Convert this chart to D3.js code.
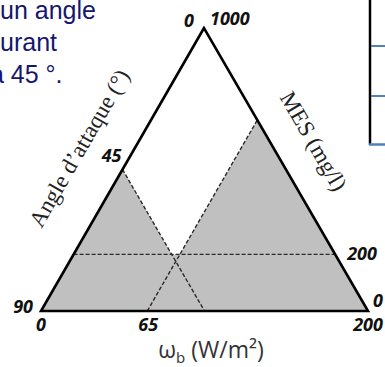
<!DOCTYPE html>
<html><head><meta charset="utf-8">
<script src="https://cdn.jsdelivr.net/npm/d3@7"></script>
<style>html,body{margin:0;padding:0;background:#fff;}svg{display:block;}</style>
</head><body>
<script>
// ---- data ----
const angleDomain = [0, 90];      // left side: 0 at apex, 90 at bottom-left
const omegaDomain = [0, 200];     // bottom side: 0 left, 200 right
const mesDomain = [0, 1000];      // right side: 0 bottom-right, 1000 apex
const angleTicks = [0, 45, 90];
const omegaTicks = [0, 65, 200];
const mesTicks = [0, 200, 1000];
const angleThreshold = 45;
const omegaThreshold = 65;
const mesThreshold = 200;
const noteLines = ["un angle", "urant", "à 45 °."];

const W = 385, H = 367;
const svg = d3.select("body").append("svg").attr("width", W).attr("height", H);

const T = [204, 28], L = [41, 311], R = [368, 311];
const lerp = (p, q, t) => [p[0] + (q[0] - p[0]) * t, p[1] + (q[1] - p[1]) * t];
const aS = d3.scaleLinear().domain(angleDomain).range([0, 1]);
const wS = d3.scaleLinear().domain(omegaDomain).range([0, 1]);
const mS = d3.scaleLinear().domain(mesDomain).range([0, 1]);
const pA = a => lerp(T, L, aS(a));
const pW = w => lerp(L, R, wS(w));
const pM = m => lerp(R, T, mS(m));
function inter(p, d, q, e) {
  const den = d[0] * e[1] - d[1] * e[0];
  const t = ((q[0] - p[0]) * e[1] - (q[1] - p[1]) * e[0]) / den;
  return [p[0] + d[0] * t, p[1] + d[1] * t];
}
const dirRight = [R[0] - T[0], R[1] - T[1]];
const dirLeft = [T[0] - L[0], T[1] - L[1]];
const dirBottom = [R[0] - L[0], 0];

const a0 = pA(angleThreshold);
const w0 = pW(omegaThreshold);
const m0 = pM(mesThreshold);
const aEnd = inter(a0, dirRight, L, dirBottom);
const wEnd = inter(w0, dirLeft, R, [T[0] - R[0], T[1] - R[1]]);
const mStart = inter(m0, dirBottom, L, dirLeft);
const aC = inter(a0, dirRight, m0, dirBottom);
const cW = inter(m0, dirBottom, w0, dirLeft);

const line = d3.line();
svg.append("path").attr("d", line([T, L, R]) + "Z").attr("fill", "#c0c0c0");
svg.append("path").attr("d", line([T, a0, aC, cW, wEnd]) + "Z").attr("fill", "#fff");

const dash = {stroke: "#2a2a2a", "stroke-width": 1.4, "stroke-dasharray": "4,2", fill: "none"};
[[a0, aEnd], [w0, wEnd], [mStart, m0]].forEach(seg => {
  const p = svg.append("path").attr("d", line(seg));
  Object.entries(dash).forEach(([k, v]) => p.attr(k, v));
});
svg.append("path").attr("d", line([T, L, R]) + "Z").attr("fill", "none")
  .attr("stroke", "#000").attr("stroke-width", 2.6).attr("stroke-linejoin", "miter");

// tick labels
const tf = g => g.attr("font-family", "Open Sans, sans-serif").attr("font-weight", "bold")
  .attr("font-style", "italic").attr("font-size", 18).attr("fill", "#111");
angleTicks.forEach(a => {
  const p = pA(a);
  let dx = -9, dy = -1;
  if (a === angleDomain[1]) { dx = -8; dy = 2; }
  if (a === angleThreshold) { dx = -1; dy = -8; }
  if (a === angleDomain[0]) { dx = -10; dy = -1; }
  tf(svg.append("text")).attr("x", p[0] + dx).attr("y", p[1] + dy).attr("text-anchor", "end").text(a);
});
omegaTicks.forEach(w => {
  const p = pW(w);
  let dx = 0;
  if (w === omegaThreshold) dx = 1;
  tf(svg.append("text")).attr("x", p[0] + dx).attr("y", p[1] + 20).attr("text-anchor", "middle").text(w);
});
mesTicks.forEach(m => {
  const p = pM(m);
  let dx = 5, dy = -4;
  if (m === mesThreshold) { dx = 12; dy = 6; }
  if (m === mesDomain[1]) { dx = 6; dy = -3; }
  tf(svg.append("text")).attr("x", p[0] + dx).attr("y", p[1] + dy).attr("text-anchor", "start").text(m);
});

// axis titles
svg.append("text").attr("transform", "translate(86,152) rotate(-60)")
  .attr("text-anchor", "middle").attr("font-family", "Liberation Serif, serif").attr("font-size", 23)
  .attr("fill", "#222").text("Angle d’attaque (°)");
svg.append("text").attr("transform", "translate(307,145) rotate(60)")
  .attr("text-anchor", "middle").attr("font-family", "Liberation Serif, serif").attr("font-size", 23)
  .attr("fill", "#222").text("MES (mg/l)");
const bt = svg.append("text").attr("x", 211).attr("y", 358).attr("text-anchor", "middle")
  .attr("font-family", "Open Sans, sans-serif").attr("font-size", 23).attr("fill", "#333");
bt.append("tspan").text("ω");
bt.append("tspan").attr("font-size", 15).attr("dy", 5).text("b");
bt.append("tspan").attr("dy", -5).text(" (W/m²)");

// note text (cropped at the left edge, as in the reference)
noteLines.forEach((t, i) => {
  svg.append("text").attr("x", i === 2 ? -10 : 0).attr("y", 19 + i * 32)
    .attr("font-family", "Liberation Sans, Arial, sans-serif").attr("font-size", 25)
    .attr("fill", "#16166e").text(t);
});

// cropped table at right
svg.append("line").attr("x1", 370).attr("x2", 370).attr("y1", 0).attr("y2", 145)
  .attr("stroke", "#000").attr("stroke-width", 2.5);
[46, 96].forEach(y => svg.append("line").attr("x1", 371).attr("x2", 385).attr("y1", y).attr("y2", y)
  .attr("stroke", "#4f81bd").attr("stroke-width", 2));
svg.append("line").attr("x1", 369).attr("x2", 385).attr("y1", 144.5).attr("y2", 144.5)
  .attr("stroke", "#4f81bd").attr("stroke-width", 2.5);
</script>
</body></html>
